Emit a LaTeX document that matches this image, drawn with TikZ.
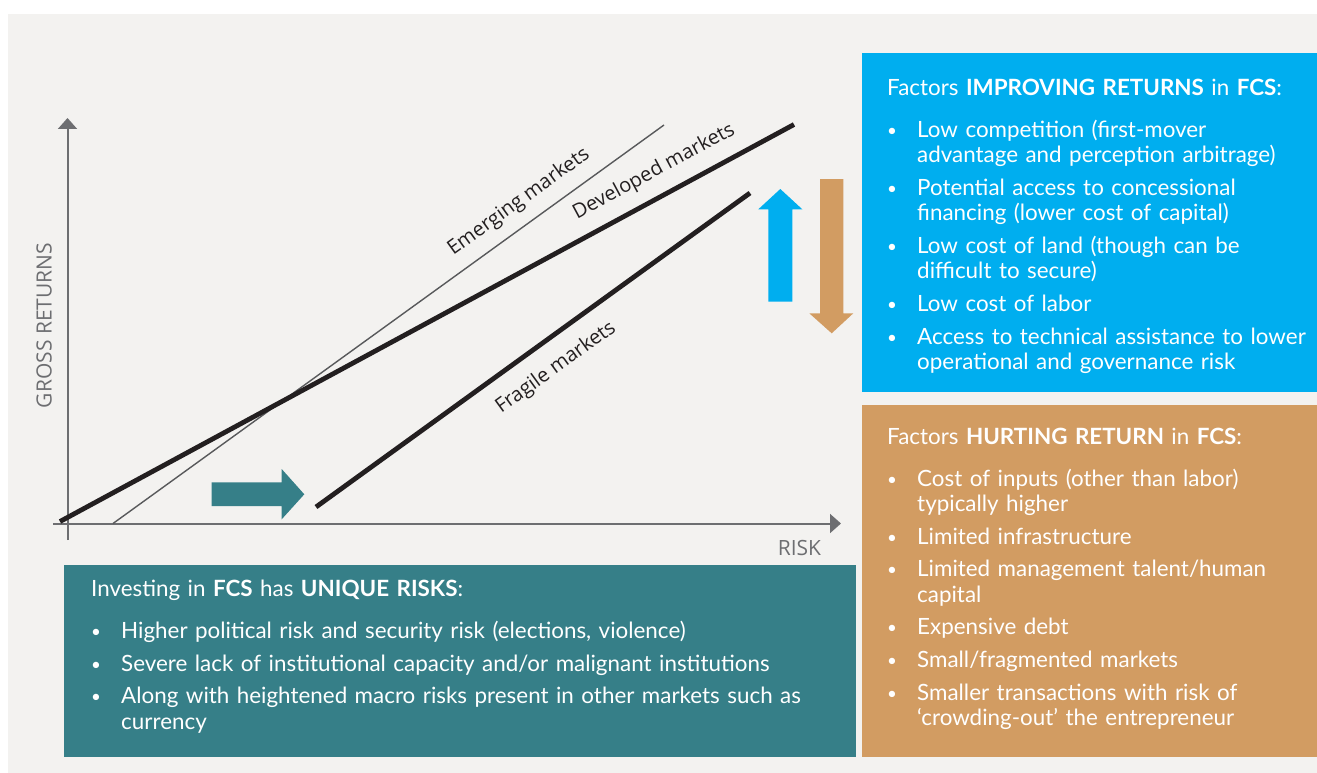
\documentclass[tikz,border=0pt]{standalone}
\usepackage{fontspec}
\setmainfont{Lato}
\newfontfamily\chartfont{Open Sans}
\usepackage{enumitem}
\usepackage{tikz}
\usetikzlibrary{positioning}
\usetikzlibrary{arrows.meta}
\definecolor{bggray}{HTML}{F3F2F0}
\definecolor{axisgray}{HTML}{6D6E71}
\definecolor{linedark}{HTML}{231F20}
\definecolor{linethin}{HTML}{58595B}
\definecolor{tealc}{HTML}{367F88}
\definecolor{bluec}{HTML}{00AEEF}
\definecolor{tanc}{HTML}{D29C62}
\newcommand{\dotlabel}{\raisebox{1pt}{\fontsize{17}{17}\selectfont\textbullet}}
\setlist[itemize]{label=\dotlabel,leftmargin=30pt,labelsep=0pt,labelwidth=30pt,align=left,
    topsep=16.4pt,partopsep=0pt,parsep=0pt,itemsep=7.4pt}
\tikzset{
    return chart/.style={
            x=1pt,y=-1pt,
            axis/.style={draw=axisgray,line width=2pt,-{Triangle[length=11pt,width=19pt]}},
            market/.style={draw=linedark,line width=4.8pt},
            thin market/.style={draw=linethin,line width=1.4pt},
            market label/.style={font=\chartfont\fontsize{20}{23}\selectfont,text=linedark,inner sep=0pt},
            axis label/.style={font=\chartfont\fontsize{21}{24}\selectfont,text=axisgray,inner sep=0pt},
            panel/.style={anchor=north west,inner sep=0pt,outer sep=0pt},
            box text/.style={anchor=base west,inner sep=0pt,text=white,align=left,
                font=\fontsize{22.4}{25.3}\selectfont}
        }
    }

\begin{document}
\begin{tikzpicture}[return chart]
    \useasboundingbox (0,0) rectangle (1317,773);
    \fill [bggray] (8,14) rectangle (1317,773);
    % axes
    \coordinate (xs) at (53,523.5);
    \coordinate (xe) at (841,523.5);
    \coordinate (ys) at (67.5,540);
    \coordinate (ye) at (67.5,118);
    \draw [axis] (xs) -- (xe);
    \draw [axis] (ys) -- (ye);
    \node (gross) [axis label,rotate=90] at (44,325.5) {GROSS RETURNS};
    \node (risk) [axis label] at (799.5,548) {RISK};
    % market lines
    \coordinate (em0) at (113,523.5);
    \coordinate (em1) at (664,125);
    \coordinate (dm0) at (60,521.5);
    \coordinate (dm1) at (794,124.5);
    \coordinate (fm0) at (316,507);
    \coordinate (fm1) at (750,193);
    \draw [thin market] (em0) -- (em1);
    \draw [market] (dm0) -- (dm1);
    \draw [market] (fm0) -- (fm1);
    \node (emerging) [market label,rotate=35.8] at (519,202) {Emerging markets};
    \node (developed) [market label,rotate=28.3] at (654,172) {Developed markets};
    \node (fragile) [market label,rotate=35.9] at (556,368) {Fragile markets};
    % block arrows
    \fill [tealc] (211.7,482.3) -- (281.7,482.3) -- (281.7,469) -- (304.3,494.3)
        -- (281.7,519.3) -- (281.7,506) -- (211.7,506) -- cycle;
    \fill [bluec] (768.3,301.7) -- (768.3,209.3) -- (758.3,209.3) -- (780.3,189)
        -- (802.3,209.3) -- (792.3,209.3) -- (792.3,301.7) -- cycle;
    \fill [tanc] (820,179) -- (820,313.3) -- (809.3,313.3) -- (831.7,333.3)
        -- (853.3,313.3) -- (843.3,313.3) -- (843.3,179) -- cycle;
    % panels
    \node (improving) [panel,fill=bluec,minimum width=455pt,minimum height=339pt] at (862,53) {};
    \node (hurting) [panel,fill=tanc,minimum width=455pt,minimum height=352pt] at (862,405) {};
    \node (unique) [panel,fill=tealc,minimum width=792pt,minimum height=192pt] at (64,565) {};
    \node (improvingtext) [box text,text width=428pt] at (887,96) {%
        Factors \textbf{IMPROVING RETURNS} in \textbf{FCS}:
        \begin{itemize}
            \item Low competition (first-mover\newline advantage and perception arbitrage)
            \item Potential access to concessional\newline financing (lower cost of capital)
            \item Low cost of land (though can be\newline difficult to secure)
            \item Low cost of labor
            \item Access to technical assistance to lower\newline operational and governance risk
        \end{itemize}};
    \node (hurtingtext) [box text,text width=428pt] at (887,444.3) {%
        Factors \textbf{HURTING RETURN} in \textbf{FCS}:
        \begin{itemize}
            \item Cost of inputs (other than labor)\newline typically higher
            \item Limited infrastructure
            \item Limited management talent/human\newline capital
            \item Expensive debt
            \item Small/fragmented markets
            \item Smaller transactions with risk of\newline ‘crowding-out’ the entrepreneur
        \end{itemize}};
    \node (uniquetext) [box text,text width=760pt] at (91,596.7) {%
        Investing in \textbf{FCS} has \textbf{UNIQUE RISKS}:
        \begin{itemize}
            \item Higher political risk and security risk (elections, violence)
            \item Severe lack of institutional capacity and/or malignant institutions
            \item Along with heightened macro risks present in other markets such as\newline currency
        \end{itemize}};
\end{tikzpicture}
\end{document}
